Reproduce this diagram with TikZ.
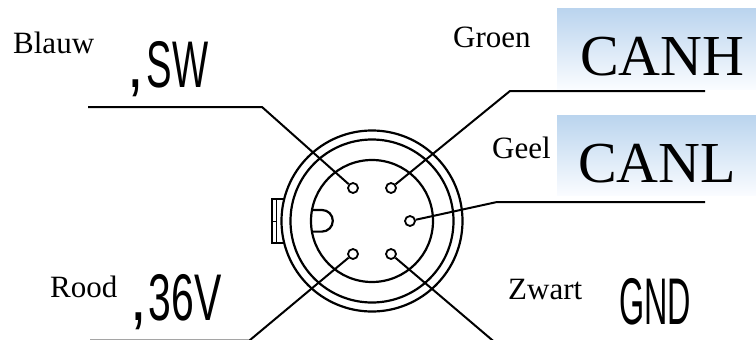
\documentclass[tikz,border=0pt]{standalone}
\usepackage{fontspec}
\setmainfont{Liberation Serif}
\newfontfamily\condfont{Liberation Sans}
\definecolor{boxtop}{RGB}{186,212,238}
\definecolor{boxbot}{RGB}{250,252,255}
\begin{document}
\begin{tikzpicture}[x=1pt,y=-1pt,
  wire/.style={line width=2pt},
  ring/.style={line width=2.2pt},
  pinc/.style={circle, draw, line width=1.8pt, minimum size=10pt, inner sep=0pt},
  lbl/.style={anchor=base west, inner sep=0pt, font=\fontsize{31}{31}\selectfont},
  sig/.style={anchor=base west, inner sep=0pt, font=\fontsize{58}{58}\selectfont},
  cond/.style={anchor=base west, inner sep=0pt, font=\condfont\fontsize{66}{66}\selectfont},
  bluebox/.style={top color=boxtop, bottom color=boxbot, draw=none}]
\useasboundingbox (0,0) rectangle (756,340);

% blue gradient panels
\shade[bluebox] (557,8) rectangle (756,89);
\shade[bluebox] (557,115) rectangle (756,195);

% connector body
\coordinate (c) at (372,221);
\draw[ring] (c) circle[radius=90.5];
\draw[ring] (c) circle[radius=81.5];
\draw[ring] (c) circle[radius=61];

% key (D shape)
\draw[ring] (311.5,210) -- (322,210) arc[start angle=-90, end angle=90, radius=10.8] -- (311.5,231.6);
% side tab
\draw[line width=2pt] (284,199) -- (272,199) -- (272,243) -- (284,243);
\draw[line width=1.4pt] (276.5,199) -- (276.5,243);
\draw[line width=1.6pt] (272,221.5) -- (277,221.5);

% pins
\node[pinc] (p1) at (353,188) {};
\node[pinc] (p2) at (391,188) {};
\node[pinc] (p3) at (410,221) {};
\node[pinc] (p4) at (353,254) {};
\node[pinc] (p5) at (391,254) {};

% leader line points
\coordinate (swbend) at (262,107);
\coordinate (swend) at (88,107);
\coordinate (chbend) at (510,91);
\coordinate (chend) at (705,91);
\coordinate (clbend) at (497,202);
\coordinate (clend) at (705,202);
\coordinate (vbend) at (249.3,340.6);
\coordinate (vend) at (90,340.6);
\coordinate (gend) at (498,345);

\draw[wire] (p1) -- (swbend) -- (swend);
\draw[wire] (p2) -- (chbend) -- (chend);
\draw[wire] (p3) -- (clbend) -- (clend);
\draw[wire] (p4) -- (vbend) -- (vend);
\draw[wire] (p5) -- (gend);

% labels
\node[lbl] (blauw) at (13,53) {Blauw};
\node[cond] (sw) at (127,87) {\scalebox{0.9}[1.1]{,}\kern3pt\scalebox{0.58}[1]{SW}};
\node[lbl] (groen) at (453,47) {Groen};
\node[sig] (canh) at (580,75) {CANH};
\node[lbl] (geel) at (492,158) {Geel};
\node[sig] (canl) at (578,182) {CANL};
\node[lbl] (rood) at (50,297) {Rood};
\node[cond] (v36) at (130,320) {\scalebox{0.9}[1.1]{,}\kern2pt\scalebox{0.62}[1]{36V}};
\node[lbl] (zwart) at (508,299) {Zwart};
\node[cond] (gnd) at (619,324) {\scalebox{0.49}[1]{GND}};
\end{tikzpicture}
\end{document}
